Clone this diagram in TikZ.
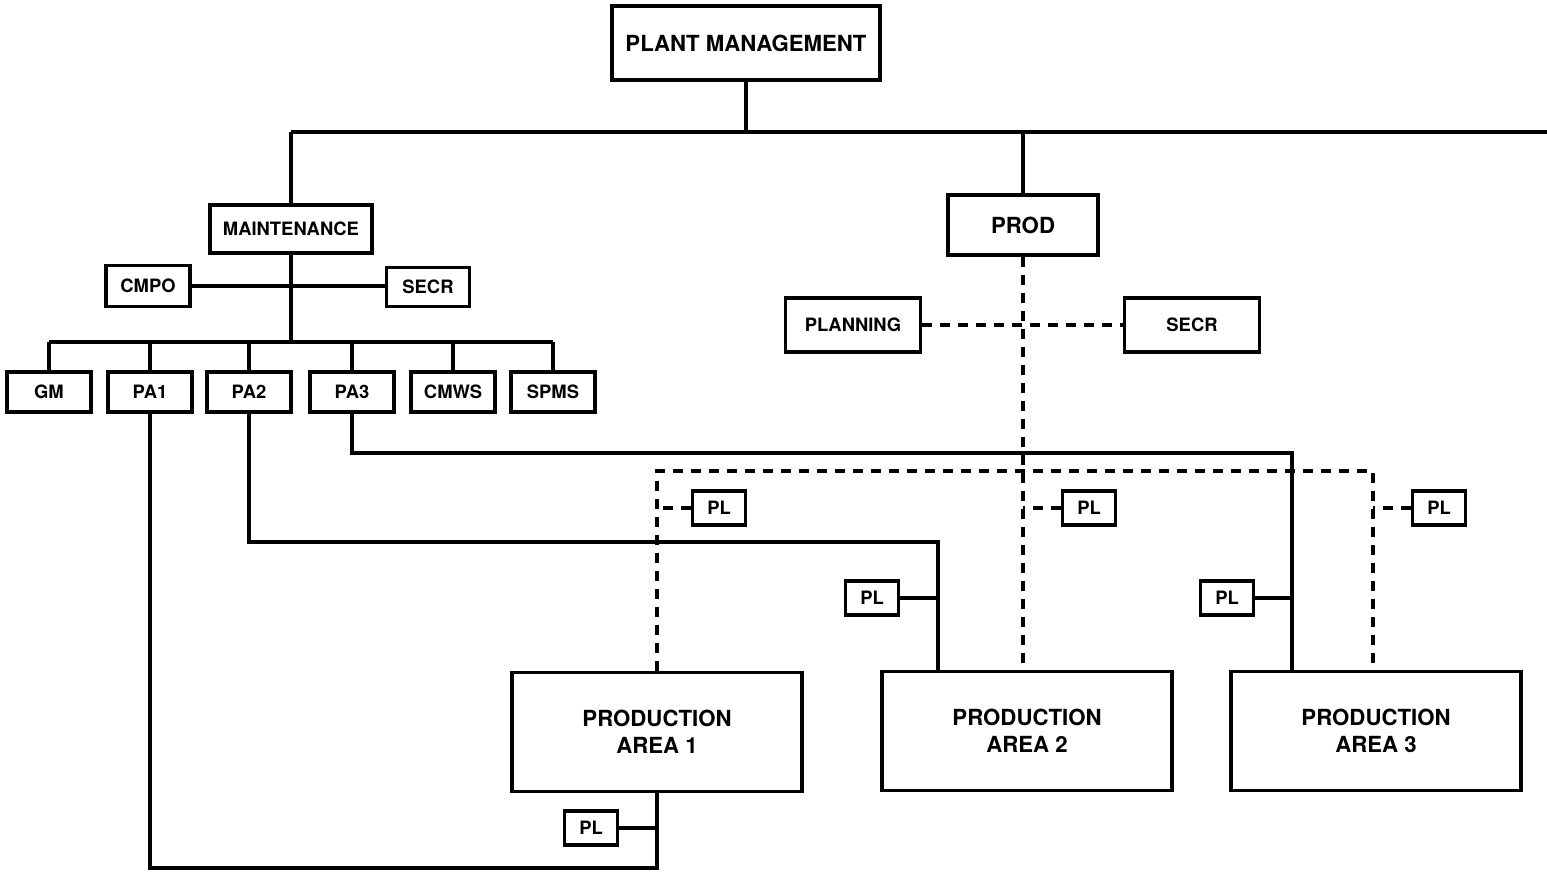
\documentclass[tikz,border=0pt]{standalone}
\usepackage{fontspec}
\setmainfont{TeX Gyre Heros}
\begin{document}
\begin{tikzpicture}[x=0.5pt,y=-0.5pt,
  line width=1.6pt,
  box/.style={draw,rectangle,inner sep=0pt,align=center},
  bigtxt/.style={font=\fontsize{11.1}{13.5}\selectfont\bfseries},
  smalltxt/.style={font=\fontsize{9.2}{11}\selectfont\bfseries},
  plbox/.style={box,smalltxt,minimum width=26.5pt,minimum height=17pt},
  childbox/.style={box,smalltxt,minimum width=42pt,minimum height=20pt},
  areabox/.style={box,bigtxt,minimum width=145pt,minimum height=59.5pt},
  dashlink/.style={dash pattern=on 5pt off 4pt}]
\useasboundingbox (0,0) rectangle (1547,874);

% top of the chart
\node[box,bigtxt,minimum width=134pt,minimum height=37pt] (pm) at (746,43) {PLANT MANAGEMENT};
\coordinate (busR) at (1547,132);

% maintenance branch
\node[box,smalltxt,minimum width=81pt,minimum height=24pt] (maint) at (291,229) {MAINTENANCE};
\node[box,smalltxt,minimum width=42pt,minimum height=20.5pt] (cmpo) at (148,286) {CMPO};
\node[box,smalltxt,minimum width=41.5pt,minimum height=19.5pt] (secra) at (428,287) {SECR};
\coordinate (mbus) at (291,342);
\node[childbox] (gm) at (49,392) {GM};
\node[childbox] (pa1) at (150,392) {PA1};
\node[childbox] (pa2) at (249,392) {PA2};
\node[childbox] (pa3) at (352,392) {PA3};
\node[childbox] (cmws) at (453,392) {CMWS};
\node[childbox] (spms) at (553,392) {SPMS};

% production branch
\node[box,bigtxt,minimum width=75pt,minimum height=30pt] (prod) at (1023,225) {PROD};
\node[box,smalltxt,minimum width=67.5pt,minimum height=27pt] (plan) at (853,325) {PLANNING};
\node[box,smalltxt,minimum width=67.5pt,minimum height=27pt] (secrb) at (1192,325) {SECR};

% production areas
\node[areabox] (area1) at (657,732) {PRODUCTION\\AREA 1};
\node[areabox] (area2) at (1027,731) {PRODUCTION\\AREA 2};
\node[areabox] (area3) at (1376,731) {PRODUCTION\\AREA 3};

% planners
\node[plbox] (pl1) at (719,508) {PL};
\node[plbox] (pl2) at (1089,508) {PL};
\node[plbox] (pl3) at (1439,508) {PL};
\node[plbox] (pl4) at (872,598) {PL};
\node[plbox] (pl5) at (1227,598) {PL};
\node[plbox] (pl6) at (591,828) {PL};

% routing corners
\coordinate (c1) at (657,868);
\coordinate (c2) at (938,542);
\coordinate (c3) at (1292,453);
\coordinate (d3) at (1373,471);

% solid connectors
\draw (maint.north |- busR) -- (busR);
\draw (pm.south) -- (pm.south |- busR);
\draw (maint.north |- busR) -- (maint.north);
\draw (prod.north) -- (prod.north |- busR);
\draw (maint.south) -- (mbus);
\draw (cmpo.east) -- (cmpo.east -| secra.west);
\draw (gm.north |- mbus) -- (spms.north |- mbus);
\foreach \n in {gm,pa1,pa2,pa3,cmws,spms}
  \draw (\n.north) -- (\n.north |- mbus);
\draw (pa3.south) |- (c3) -- (c3 |- area3.north);
\draw (pa2.south) |- (c2) -- (c2 |- area2.north);
\draw (pa1.south) |- (c1) -- (area1.south);
\draw (pl4.east) -- (pl4.east -| c2);
\draw (pl5.east) -- (pl5.east -| c3);
\draw (pl6.east) -- (pl6.east -| c1);

% dashed connectors
\draw[dashlink] (prod.south) -- (prod.south |- area2.north);
\draw[dashlink] (plan.east) -- (secrb.west);
\draw[dashlink] (area1.north) |- (d3) -- (d3 |- area3.north);
\draw[dashlink] (pl1.west) -- (pl1.west -| area1.north);
\draw[dashlink] (pl2.west) -- (pl2.west -| prod.south);
\draw[dashlink] (pl3.west) -- (pl3.west -| d3);
\end{tikzpicture}
\end{document}
